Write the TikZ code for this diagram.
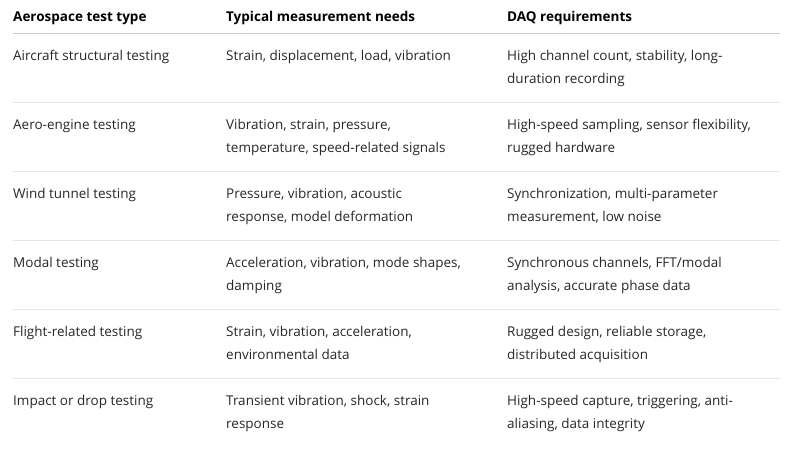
\documentclass[tikz,border=0pt]{standalone}
\usepackage{fontspec}
\setmainfont{Open Sans}
\begin{document}
\begin{tikzpicture}[x=1pt,y=-1pt,
  cell/.style={anchor=north west,inner sep=0pt,font=\fontsize{13.5}{23}\selectfont,text=black!85,align=left},
  head/.style={anchor=base west,inner sep=0pt,font=\fontsize{13.5}{23}\selectfont\bfseries,text=black},
  hline/.style={draw=black!20,line width=0.8pt},
  rline/.style={draw=black!10,line width=0.8pt}]
\useasboundingbox (0,0) rectangle (793,460);
\node[head] (h1) at (13,22) {Aerospace test type};
\node[head] (h2) at (226,22) {Typical measurement needs};
\node[head] (h3) at (507,22) {DAQ requirements};
\draw[hline] (13,33) -- (780,33);
\foreach \i/\a/\b/\c in {
 0/{Aircraft structural testing}/{Strain, displacement, load, vibration}/{High channel count, stability, long-\\duration recording},
 1/{Aero-engine testing}/{Vibration, strain, pressure,\\temperature, speed-related signals}/{High-speed sampling, sensor flexibility,\\rugged hardware},
 2/{Wind tunnel testing}/{Pressure, vibration, acoustic\\response, model deformation}/{Synchronization, multi-parameter\\measurement, low noise},
 3/{Modal testing}/{Acceleration, vibration, mode shapes,\\damping}/{Synchronous channels, FFT/modal\\analysis, accurate phase data},
 4/{Flight-related testing}/{Strain, vibration, acceleration,\\environmental data}/{Rugged design, reliable storage,\\distributed acquisition},
 5/{Impact or drop testing}/{Transient vibration, shock, strain\\response}/{High-speed capture, triggering, anti-\\aliasing, data integrity}}{
  \pgfmathsetmacro\yy{50+69*\i}
  \node[cell] (a\i) at (13,\yy) {\a};
  \node[cell] (b\i) at (226,\yy) {\b};
  \node[cell] (c\i) at (507,\yy) {\c};
}
\foreach \i in {1,...,5}{\pgfmathsetmacro\yy{33+69*\i}\draw[rline] (13,\yy) -- (780,\yy);}
\end{tikzpicture}
\end{document}
